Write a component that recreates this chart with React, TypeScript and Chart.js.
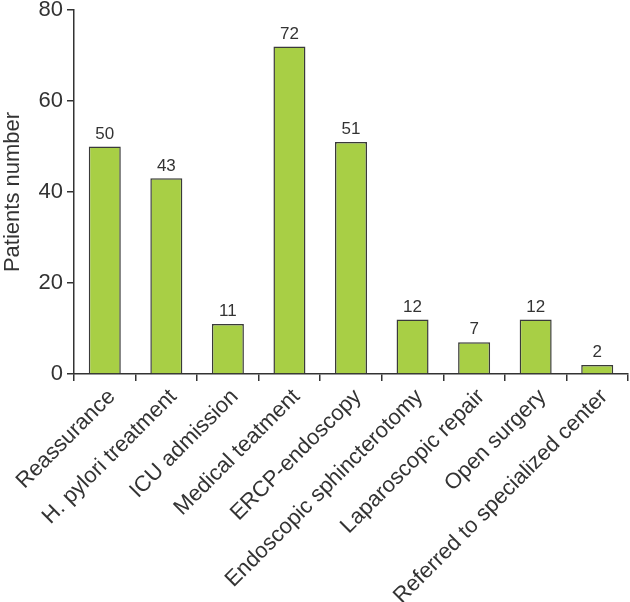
import React, { useRef, useEffect } from 'react';
import { Chart, registerables } from 'chart.js';

Chart.register(...registerables);

const categories = [
  'Reassurance',
  'H. pylori treatment',
  'ICU admission',
  'Medical teatment',
  'ERCP-endoscopy',
  'Endoscopic sphincterotomy',
  'Laparoscopic repair',
  'Open surgery',
  'Referred to specialized center',
];
const patients = [50, 43, 11, 72, 51, 12, 7, 12, 2];
const yTicks = [0, 20, 40, 60, 80];

const FONT = '"Liberation Sans", Arial, sans-serif';
const INK = '#333333';

// draws the number above each bar
const valueLabels = {
  id: 'valueLabels',
  afterDatasetsDraw(chart: any) {
    const { ctx } = chart;
    const meta = chart.getDatasetMeta(0);
    ctx.save();
    ctx.font = `17px ${FONT}`;
    ctx.fillStyle = INK;
    ctx.textAlign = 'center';
    ctx.textBaseline = 'bottom';
    meta.data.forEach((bar: any, i: number) => {
      ctx.fillText(String(patients[i]), bar.x, bar.y - 4);
    });
    ctx.restore();
  },
};

const App: React.FC = () => {
  const chartRef = useRef<HTMLCanvasElement | null>(null);
  const chartInstance = useRef<Chart | null>(null);

  useEffect(() => {
    if (!chartRef.current) return;
    const ctx = chartRef.current.getContext('2d');
    if (!ctx) return;
    if (chartInstance.current) chartInstance.current.destroy();

    chartInstance.current = new Chart(ctx, {
      type: 'bar',
      data: {
        labels: categories,
        datasets: [
          {
            data: patients,
            backgroundColor: '#a8cf45',
            borderColor: '#3a3a3a',
            borderWidth: 1.5,
            barPercentage: 0.52,
            categoryPercentage: 1,
          },
        ],
      },
      options: {
        animation: false,
        responsive: true,
        maintainAspectRatio: false,
        layout: { padding: { top: 0, right: 2, left: 0, bottom: 0 } },
        scales: {
          x: {
            afterFit: (axis: any) => {
              axis.height = 228;
            },
            grid: {
              drawOnChartArea: false,
              drawTicks: true,
              tickLength: 7,
              color: INK,
              lineWidth: 1.5,
            },
            border: { color: INK, width: 1.5 },
            ticks: {
              maxRotation: 45,
              minRotation: 45,
              autoSkip: false,
              color: INK,
              padding: 3,
              labelOffset: 7,
              font: { family: FONT, size: 22 },
            },
          },
          y: {
            min: 0,
            max: 80,
            afterBuildTicks: (axis: any) => {
              axis.ticks = yTicks.map(v => ({ value: v }));
            },
            afterFit: (axis: any) => {
              axis.width = 74;
              axis.paddingTop = 10;
            },
            grid: {
              drawOnChartArea: false,
              drawTicks: true,
              tickLength: 7,
              color: INK,
              lineWidth: 1.5,
            },
            border: { color: INK, width: 1.5 },
            ticks: {
              color: INK,
              padding: 4,
              font: { family: FONT, size: 22 },
            },
            title: {
              display: true,
              text: 'Patients number',
              color: INK,
              padding: { top: 0, bottom: 6 },
              font: { family: FONT, size: 22 },
            },
          },
        },
        plugins: {
          legend: { display: false },
          tooltip: { enabled: false },
        },
      },
      plugins: [valueLabels],
    });

    return () => {
      if (chartInstance.current) {
        chartInstance.current.destroy();
        chartInstance.current = null;
      }
    };
  }, []);

  return (
    <div style={{ position: 'absolute', left: 0, top: 0, width: 630, height: 602, background: '#fff' }}>
      <canvas ref={chartRef}></canvas>
    </div>
  );
};

export default App;
